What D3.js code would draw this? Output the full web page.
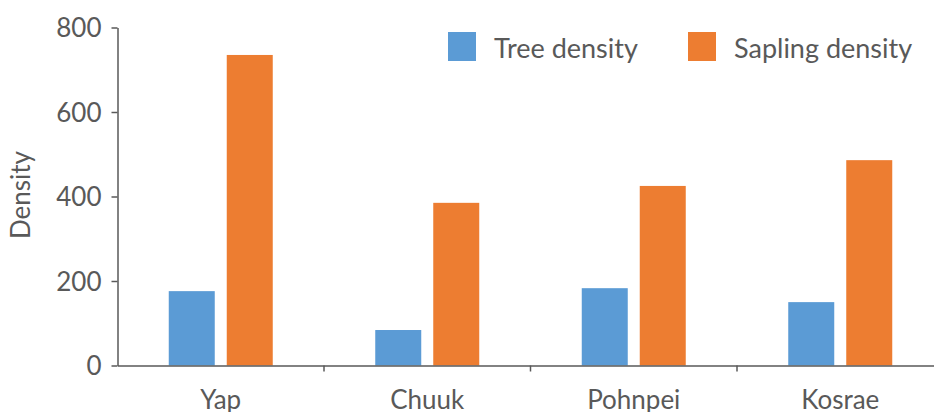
<!DOCTYPE html>
<html><head><meta charset="utf-8">
<script src="https://cdn.jsdelivr.net/npm/d3@7"></script>
<style>body{margin:0;background:#fff}svg{display:block}text{font-family:Lato,"Open Sans",sans-serif;fill:#595959}</style>
</head><body><svg id="c" width="934" height="412"></svg>
<script>
const categories = ["Yap", "Chuuk", "Pohnpei", "Kosrae"];
const seriesNames = ["Tree density", "Sapling density"];
const treeDensity = [176, 84, 183, 150];
const saplingDensity = [735, 385, 425, 486];
const yTicks = [0, 200, 400, 600, 800];
const colors = ["#5b9bd5", "#ed7d31"];

const svg = d3.select("#c");
const x0 = 117.5, bandW = 206.5;
const x = d3.scaleBand().domain(categories).range([x0, x0 + bandW * categories.length]).paddingInner(0).paddingOuter(0);
const y = d3.scaleLinear().domain([0, 800]).range([365.5, 27.5]);
const barW = 46, gap = 12;
const series = [treeDensity, saplingDensity];

// bars
series.forEach((vals, si) => {
  svg.append("g").selectAll("rect").data(categories).join("rect")
    .attr("x", (d) => x(d) + x.bandwidth() / 2 + (si === 0 ? -gap / 2 - barW : gap / 2))
    .attr("width", barW)
    .attr("y", (d, i) => y(vals[i]))
    .attr("height", (d, i) => y(0) - y(vals[i]))
    .attr("fill", colors[si]);
});

// y axis
const ya = svg.append("g").attr("transform", `translate(${x0},0)`)
  .call(d3.axisLeft(y).tickValues(yTicks).tickSize(6).tickPadding(10).tickSizeOuter(0));
ya.select(".domain").attr("stroke", "#595959").attr("stroke-width", 1.5);
ya.selectAll(".tick line").attr("stroke", "#595959").attr("stroke-width", 1.5);
ya.selectAll(".tick text").style("font-size", "26px").attr("fill", "#595959").attr("dy", "0.36em");

// x axis
const xa = svg.append("g").attr("transform", `translate(0,${y(0)})`)
  .call(d3.axisBottom(x).tickSize(0).tickPadding(25).tickSizeOuter(0));
xa.select(".domain").attr("stroke", "#595959").attr("stroke-width", 1.5);
xa.selectAll(".tick text").style("font-size", "26px").attr("fill", "#595959");
// category separator ticks
svg.append("g").selectAll("line").data(categories.slice(1)).join("line")
  .attr("x1", d => x(d)).attr("x2", d => x(d))
  .attr("y1", y(0)).attr("y2", y(0) + 6)
  .attr("stroke", "#595959").attr("stroke-width", 1.5);

// y label
svg.append("text").attr("transform", "translate(30,195) rotate(-90)")
  .attr("text-anchor", "middle").style("font-size", "26px").text("Density");

// legend
const legX = [448, 688];
seriesNames.forEach((n, i) => {
  svg.append("rect").attr("x", legX[i]).attr("y", 32).attr("width", 28).attr("height", 29).attr("fill", colors[i]);
  svg.append("text").attr("x", legX[i] + 46).attr("y", 58).style("font-size", "27px").text(n);
});
</script></body></html>
